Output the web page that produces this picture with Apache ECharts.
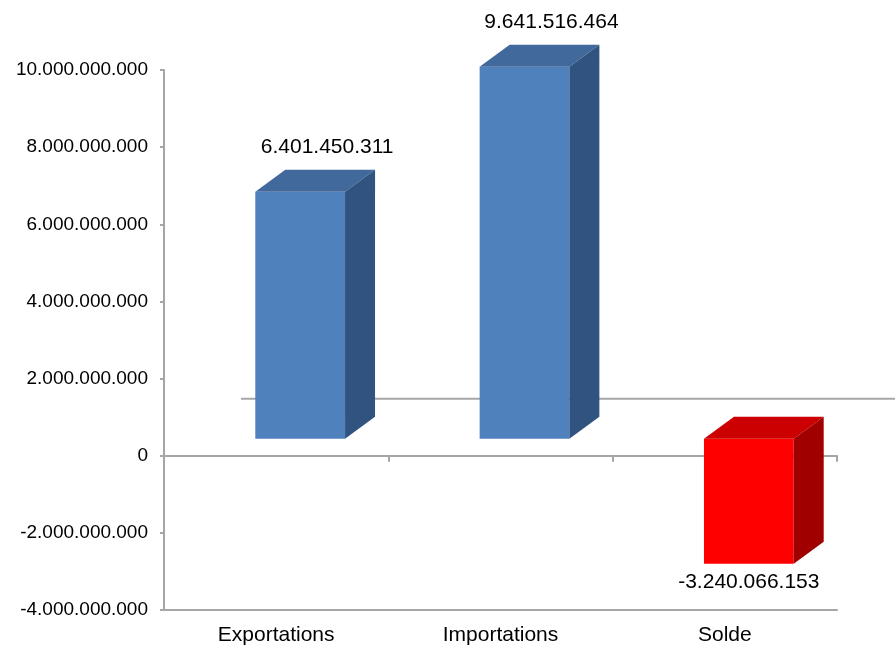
<!DOCTYPE html>
<html><head><meta charset="utf-8">
<script src="https://cdn.jsdelivr.net/npm/echarts@6/dist/echarts.min.js"></script>
<style>html,body{margin:0;padding:0;background:#fff}#c{width:895px;height:646px}</style>
</head><body><div id="c"></div>
<script>
const categories = ['Exportations', 'Importations', 'Solde'];
const values = [6401450311, 9641516464, -3240066153];
const yTicks = { min: -4000000000, max: 10000000000, interval: 2000000000 };

function fmt(n) {
  const s = Math.abs(Math.round(n)).toString().replace(/\B(?=(\d{3})+(?!\d))/g, '.');
  return (n < 0 ? '-' : '') + s;
}
const FONT = 'Liberation Sans, Arial, sans-serif';
const AX = '#a6a6a6';

function renderBar(params, api) {
  const idx = api.value(0), v = api.value(1);
  const top = api.coord([idx, v]);
  const base = api.coord([idx, 0]);
  const band = api.size([1, 0])[0];
  const w = band * 0.4;
  const cx = base[0] + band * 0.107;
  const dy = -17;
  const x0 = cx - w / 2, x1 = cx + w / 2;
  const yA = Math.min(top[1], base[1]) + dy;
  const yB = Math.max(top[1], base[1]) + dy;
  const ddx = 30, ddy = -22;
  const pos = v >= 0;
  const cFront = pos ? '#4f81bd' : '#ff0000';
  const cTop = pos ? '#42699c' : '#cc0000';
  const cSide = pos ? '#30537f' : '#a00000';
  const label = pos
    ? { x: cx + 27, y: yA - 45 }
    : { x: cx, y: yB + 19 };
  return {
    type: 'group',
    children: [
      { type: 'rect', shape: { x: x0, y: yA, width: w, height: yB - yA }, style: { fill: cFront } },
      { type: 'polygon', shape: { points: [[x0, yA], [x0 + ddx, yA + ddy], [x1 + ddx, yA + ddy], [x1, yA]] }, style: { fill: cTop } },
      { type: 'polygon', shape: { points: [[x1, yA], [x1 + ddx, yA + ddy], [x1 + ddx, yB + ddy], [x1, yB]] }, style: { fill: cSide } },
      { type: 'text', style: { text: fmt(v), x: label.x, y: label.y, align: 'center', verticalAlign: 'middle', fontSize: 21, fontFamily: FONT, fill: '#000' } }
    ]
  };
}

function renderFloor(params, api) {
  const cs = params.coordSys;
  const y0 = api.coord([0, 0])[1];
  return {
    type: 'line',
    shape: { x1: cs.x + 77, y1: y0 - 57, x2: cs.x + cs.width + 77, y2: y0 - 57 },
    style: { stroke: AX, lineWidth: 2 }
  };
}

const chart = echarts.init(document.getElementById('c'));
chart.setOption({
  animation: false,
  backgroundColor: '#fff',
  grid: { left: 164, right: 58, top: 70, bottom: 36 },
  xAxis: [
    {
      type: 'category', data: categories, position: 'bottom',
      axisLine: { onZero: false, lineStyle: { color: AX, width: 2 } },
      axisTick: { show: false },
      axisLabel: { color: '#000', fontSize: 21, fontFamily: FONT, margin: 15 }
    },
    {
      type: 'category', data: categories, position: 'bottom',
      axisLine: { onZero: true, lineStyle: { color: AX, width: 2 } },
      axisTick: { show: true, length: 6, lineStyle: { color: AX, width: 2 } },
      axisLabel: { show: false }
    }
  ],
  yAxis: {
    type: 'value', min: yTicks.min, max: yTicks.max, interval: yTicks.interval,
    axisLine: { show: true, lineStyle: { color: AX, width: 2 } },
    axisTick: { show: true, length: 4, lineStyle: { color: AX, width: 2 } },
    splitLine: { show: false },
    axisLabel: { color: '#000', fontSize: 19, fontFamily: FONT, margin: 16, formatter: v => fmt(v) }
  },
  series: [
    { type: 'custom', xAxisIndex: 0, renderItem: renderFloor, data: [[0, 0]], z: 1, silent: true },
    { type: 'custom', xAxisIndex: 0, renderItem: renderBar, data: categories.map((c, i) => [i, values[i]]), z: 2 }
  ]
});
</script></body></html>
